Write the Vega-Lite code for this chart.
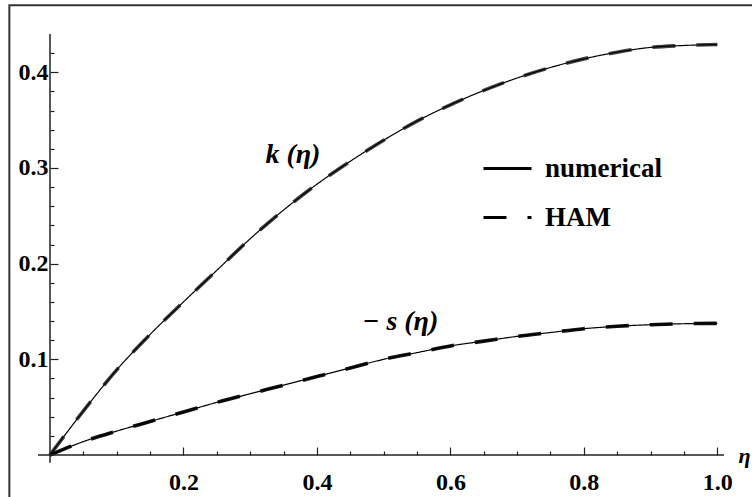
{
  "$schema": "https://vega.github.io/schema/vega-lite/v6.json",
  "width": 674,
  "height": 421,
  "autosize": "none",
  "padding": {"left": 50, "top": 34, "right": 28, "bottom": 42},
  "background": "white",
  "config": {"view": {"stroke": null}, "font": "Liberation Serif"},
  "resolve": {"axis": {"x": "independent", "y": "independent"}},
  "datasets": {
    "curves": [
      {"eta": 0, "k": 0, "s": 0},
      {"eta": 0.05, "k": 0.046, "s": 0.014},
      {"eta": 0.1, "k": 0.089, "s": 0.025},
      {"eta": 0.15, "k": 0.126, "s": 0.035},
      {"eta": 0.2, "k": 0.160, "s": 0.045},
      {"eta": 0.25, "k": 0.193, "s": 0.055},
      {"eta": 0.3, "k": 0.226, "s": 0.064},
      {"eta": 0.35, "k": 0.256, "s": 0.073},
      {"eta": 0.4, "k": 0.283, "s": 0.082},
      {"eta": 0.45, "k": 0.307, "s": 0.091},
      {"eta": 0.5, "k": 0.329, "s": 0.100},
      {"eta": 0.55, "k": 0.349, "s": 0.107},
      {"eta": 0.6, "k": 0.366, "s": 0.114},
      {"eta": 0.65, "k": 0.381, "s": 0.119},
      {"eta": 0.7, "k": 0.394, "s": 0.124},
      {"eta": 0.75, "k": 0.405, "s": 0.128},
      {"eta": 0.8, "k": 0.414, "s": 0.132},
      {"eta": 0.85, "k": 0.421, "s": 0.1345},
      {"eta": 0.9, "k": 0.426, "s": 0.1362},
      {"eta": 0.95, "k": 0.428, "s": 0.1372},
      {"eta": 1.0, "k": 0.429, "s": 0.1376}
    ],
    "labels": [
      {"label": "k (η)", "eta": 0.364, "val": 0.3135},
      {"label": "− s (η)", "eta": 0.525, "val": 0.139}
    ]
  },
  "layer": [
    {
      "data": {"values": [{}]},
      "mark": {"type": "rect", "fill": "white", "fillOpacity": 0, "stroke": "#333333", "strokeWidth": 2},
      "encoding": {
        "x": {"datum": -0.0609, "type": "quantitative", "scale": {"domain": [0, 1.01], "nice": false, "zero": false}, "axis": null},
        "x2": {"datum": 1.07},
        "y": {"datum": 0.47, "type": "quantitative", "scale": {"domain": [0, 0.44], "nice": false, "zero": false}, "axis": null},
        "y2": {"datum": -0.06}
      }
    },
    {
      "data": {"name": "curves"},
      "transform": [{"fold": ["k", "s"], "as": ["curve", "value"]}],
      "mark": {"type": "line", "strokeWidth": 3.6, "interpolate": "monotone"},
      "encoding": {
        "x": {
          "field": "eta", "type": "quantitative",
          "scale": {"domain": [0, 1.01], "nice": false, "zero": false},
          "axis": {
            "orient": "bottom",
            "values": [0.2, 0.4, 0.6, 0.8, 1.0],
            "domain": false, "grid": false,
            "tickSize": -8, "tickColor": "#222222", "tickWidth": 1.2,
            "format": ".1f",
            "labelFont": "Liberation Serif", "labelFontWeight": "bold", "labelFontSize": 24, "labelColor": "black",
            "labelPadding": 23, "labelOverlap": false, "labelFlush": false,
            "title": "η", "titleFont": "Liberation Serif", "titleFontStyle": "italic", "titleFontWeight": "bold", "titleFontSize": 22,
            "titleColor": "black", "titleX": 688, "titleY": 0, "titleAlign": "left", "titleBaseline": "middle", "titleAngle": 0
          }
        },
        "y": {
          "field": "value", "type": "quantitative",
          "scale": {"domain": [0, 0.44], "nice": false, "zero": false},
          "axis": {
            "orient": "left",
            "values": [0.1, 0.2, 0.3, 0.4],
            "domain": false, "grid": false,
            "tickSize": -8, "tickColor": "#222222", "tickWidth": 1.2,
            "format": ".1f",
            "labelFont": "Liberation Serif", "labelFontWeight": "bold", "labelFontSize": 24, "labelColor": "black",
            "labelPadding": 10, "labelOverlap": false, "labelFlush": false,
            "title": null
          }
        },
        "detail": {"field": "curve"},
        "color": {"field": "curve", "type": "nominal", "scale": {"domain": ["k", "s"], "range": ["#444444", "#111111"]}, "legend": null},
        "strokeDash": {
          "datum": "HAM", "type": "nominal",
          "scale": {"domain": ["numerical", "HAM"], "range": [[1, 0], [23, 21]]},
          "legend": {
            "orient": "none", "legendX": 432, "legendY": 109, "title": null,
            "symbolType": "stroke", "symbolSize": 2304, "symbolStrokeWidth": 3, "symbolStrokeColor": "black",
            "labelFont": "Liberation Serif", "labelFontWeight": "bold", "labelFontSize": 27, "labelColor": "black",
            "labelExpr": "datum.value == 'HAM' ? '\u00a0\u00a0HAM' : datum.label",
            "labelOffset": 12, "rowPadding": 10, "padding": 0
          }
        }
      }
    },
    {
      "data": {"name": "curves"},
      "transform": [{"fold": ["k", "s"], "as": ["curve", "value"]}],
      "mark": {"type": "line", "color": "black", "strokeWidth": 1.2, "interpolate": "monotone"},
      "encoding": {
        "x": {
          "field": "eta", "type": "quantitative",
          "scale": {"domain": [0, 1.01], "nice": false, "zero": false},
          "axis": {
            "orient": "bottom",
            "values": [0.05, 0.1, 0.15, 0.25, 0.3, 0.35, 0.45, 0.5, 0.55, 0.65, 0.7, 0.75, 0.85, 0.9, 0.95],
            "domain": false, "grid": false, "labels": false, "title": null,
            "tickSize": -4, "tickColor": "#222222", "tickWidth": 1.2
          }
        },
        "y": {
          "field": "value", "type": "quantitative",
          "scale": {"domain": [0, 0.44], "nice": false, "zero": false},
          "axis": {
            "orient": "left",
            "values": [0.02, 0.04, 0.06, 0.08, 0.12, 0.14, 0.16, 0.18, 0.22, 0.24, 0.26, 0.28, 0.32, 0.34, 0.36, 0.38, 0.42],
            "domain": false, "grid": false, "labels": false, "title": null,
            "tickSize": -4, "tickColor": "#222222", "tickWidth": 1.2
          }
        },
        "detail": {"field": "curve"},
        "strokeDash": {"datum": "numerical", "type": "nominal"}
      }
    },
    {
      "data": {"values": [{}]},
      "mark": {"type": "rule", "color": "#222222", "strokeWidth": 1.5},
      "encoding": {
        "x": {"datum": -0.018, "type": "quantitative", "axis": null},
        "x2": {"datum": 1.01},
        "y": {"datum": 0, "type": "quantitative", "axis": null}
      }
    },
    {
      "data": {"values": [{}]},
      "mark": {"type": "rule", "color": "#222222", "strokeWidth": 1.5},
      "encoding": {
        "x": {"datum": 0, "type": "quantitative", "axis": null},
        "y": {"datum": -0.008, "type": "quantitative", "axis": null},
        "y2": {"datum": 0.44}
      }
    },
    {
      "data": {"name": "labels"},
      "mark": {"type": "text", "font": "Liberation Serif", "fontWeight": "bold", "fontStyle": "italic", "fontSize": 28, "align": "center", "baseline": "middle", "color": "black"},
      "encoding": {
        "x": {"field": "eta", "type": "quantitative", "axis": null},
        "y": {"field": "val", "type": "quantitative", "axis": null},
        "text": {"field": "label"}
      }
    }
  ]
}
